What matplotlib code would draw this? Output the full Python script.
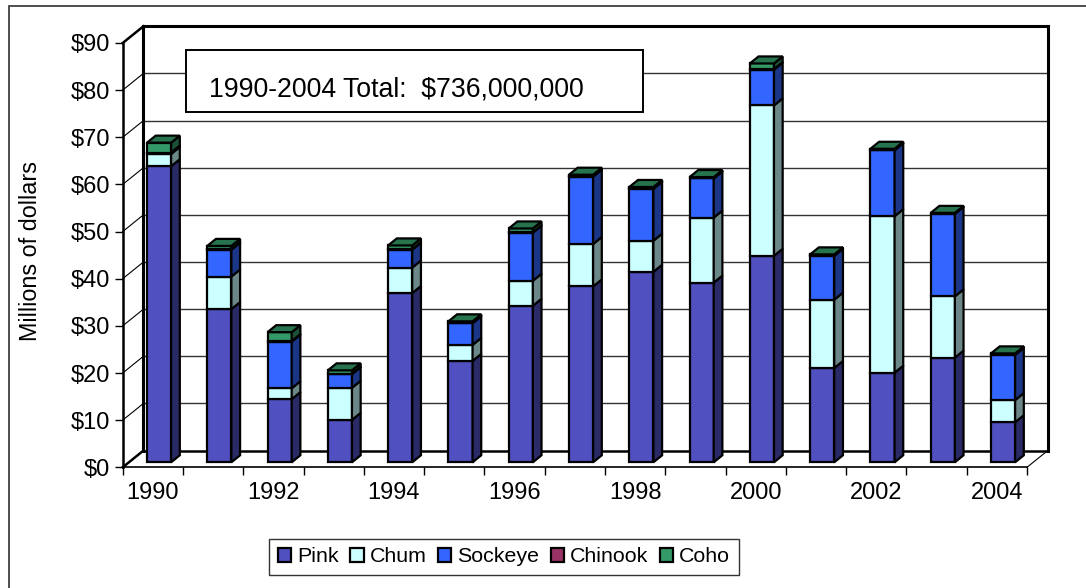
import matplotlib
matplotlib.use("Agg")
import matplotlib.pyplot as plt
from matplotlib.patches import Polygon, Rectangle, Patch
import matplotlib.colors as mcolors

plt.rcParams['font.family'] = ['Liberation Sans', 'DejaVu Sans']

# Alaska salmon harvest value by species, millions of dollars
years = list(range(1990, 2005))
pink = [62.8, 32.5, 13.4, 9.0, 35.9, 21.5, 33.2, 37.3, 40.4, 38.1, 43.8, 20.0, 19.0, 22.2, 8.5]
chum = [2.6, 6.9, 2.3, 6.8, 5.4, 3.4, 5.3, 9.0, 6.6, 13.8, 31.9, 14.5, 33.2, 13.0, 4.7]
sockeye = [0.2, 5.7, 9.9, 2.9, 3.8, 4.6, 10.2, 14.3, 11.0, 8.3, 7.6, 9.3, 14.0, 17.5, 9.6]
chinook = [0.1, 0.1, 0.1, 0.1, 0.1, 0.1, 0.1, 0.1, 0.1, 0.1, 0.1, 0.1, 0.1, 0.1, 0.1]
coho = [2.1, 0.7, 1.9, 0.7, 0.8, 0.3, 0.8, 0.3, 0.3, 0.2, 1.2, 0.2, 0.2, 0.1, 0.2]

series_names = ['Pink', 'Chum', 'Sockeye', 'Chinook', 'Coho']
series_vals = [pink, chum, sockeye, chinook, coho]
colors = ['#5050C0', '#CCFFFF', '#3366FF', '#993366', '#339966']

yticks = list(range(0, 91, 10))
ytick_labels = ['$' + str(v) for v in yticks]
year_labels = [str(y) for y in years[::2]]

W, H = 1086, 588
fig = plt.figure(figsize=(W / 100, H / 100), dpi=100)

# front plane of the 3D box
left, right, bottom, top = 122.7, 1027.0, 467.3, 43.0
ax = fig.add_axes([left / W, 1 - bottom / H, (right - left) / W, (bottom - top) / H])
ax.set_xlim(-0.5, len(years) - 0.5)
ax.set_ylim(0, 90)

# depth of the box in data units
px_x = (right - left) / len(years)
px_y = (bottom - top) / 90
DX = 20.7 / px_x
DY = 16.7 / px_y
x0, x1 = -0.5, len(years) - 0.5


def shade(c, f):
    r, g, b = mcolors.to_rgb(c)
    return (r * f, g * f, b * f)


def line(xs, ys, lw, color='black', z=1):
    ax.plot(xs, ys, color=color, lw=lw, clip_on=False, zorder=z, solid_capstyle='projecting')


# back wall gridlines and side wall diagonals
for v in yticks[1:-1]:
    line([x0 + DX, x1 + DX], [v + DY, v + DY], 1.0, '#333333')
    line([x0, x0 + DX], [v, v + DY], 0.8)

# walls and floor outline
line([x0 + DX, x1 + DX], [DY, DY], 1.8)
line([x0 + DX, x1 + DX], [90 + DY, 90 + DY], 2.2)
line([x0 + DX, x0 + DX], [DY, 90 + DY], 2.2)
line([x1 + DX, x1 + DX], [DY, 90 + DY], 2.2)
line([x0, x0 + DX], [90, 90 + DY], 1.8)
line([x0, x0 + DX], [0, DY], 1.8)
line([x1, x1 + DX], [0, DY], 0.8)

# stacked 3D columns
bw = 0.4
f0, fd = 0.3, 0.42
for i in range(len(years)):
    xl = i - bw / 2 + f0 * DX
    xr = xl + bw
    base = 0.0
    n_top = len(series_vals) - 1
    for k, vals in enumerate(series_vals):
        v = vals[i]
        b, t = base + f0 * DY, base + v + f0 * DY
        c = colors[k]
        kw = dict(edgecolor='black', lw=1.6, joinstyle='miter', clip_on=False, zorder=3)
        ax.add_patch(Polygon([(xl, b), (xr, b), (xr, t), (xl, t)], closed=True, facecolor=c, **kw))
        ax.add_patch(Polygon([(xr, b), (xr + fd * DX, b + fd * DY), (xr + fd * DX, t + fd * DY), (xr, t)],
                             closed=True, facecolor=shade(c, 0.53), **kw))
        if k == n_top:
            ax.add_patch(Polygon([(xl, t), (xr, t), (xr + fd * DX, t + fd * DY), (xl + fd * DX, t + fd * DY)],
                                 closed=True, facecolor=shade(c, 0.75), **kw))
        base += v

# front axes
for s in ['top', 'right']:
    ax.spines[s].set_visible(False)
ax.spines['left'].set_linewidth(1.8)
ax.spines['bottom'].set_linewidth(1.2)
ax.set_yticks(yticks)
ax.set_yticklabels(ytick_labels, fontsize=17)
ax.tick_params(axis='y', direction='out', length=5.5, width=1.0, pad=3.5)
ax.set_xticks([x0 + k for k in range(len(years) + 1)])
ax.set_xticklabels([])
ax.set_xticks(list(range(0, len(years), 2)), minor=True)
ax.set_xticklabels(year_labels, minor=True, fontsize=17)
ax.tick_params(axis='x', which='major', direction='out', length=5.5, width=1.0)
ax.tick_params(axis='x', which='minor', length=0, pad=10.5)
ax.patch.set_visible(False)

fig.text(31 / W, 1 - 251 / H, 'Millions of dollars', rotation=90, fontsize=16.8,
         ha='center', va='center')

# total annotation box
fig.patches.append(Rectangle((186 / W, 1 - 111.7 / H), 456.7 / W, 61.7 / H, transform=fig.transFigure,
                             facecolor='white', edgecolor='black', lw=1.4, zorder=5))
fig.text(209.3 / W, 1 - 96.7 / H, '1990-2004 Total:  $736,000,000', fontsize=19.2,
         ha='left', va='baseline', zorder=6)

# outer chart border (right and bottom sides fall off the canvas)
fig.patches.append(Rectangle((9 / W, -0.02), 1.1, 1 - 5.7 / H + 0.02, transform=fig.transFigure,
                             facecolor='none', edgecolor='#404040', lw=1.3))

handles = [Patch(facecolor=c, edgecolor='black', lw=1.6, label=n) for c, n in zip(colors, series_names)]
leg = fig.legend(handles=handles, loc='center', bbox_to_anchor=(504 / W, 1 - 557 / H), ncol=5,
                 fontsize=15.4, frameon=True, fancybox=False, handlelength=0.62, handleheight=0.62,
                 handletextpad=0.27, columnspacing=0.55, borderpad=0.42, borderaxespad=0)
leg.get_frame().set_edgecolor('black')
leg.get_frame().set_linewidth(1.0)

fig.savefig('out.png', dpi=100)
